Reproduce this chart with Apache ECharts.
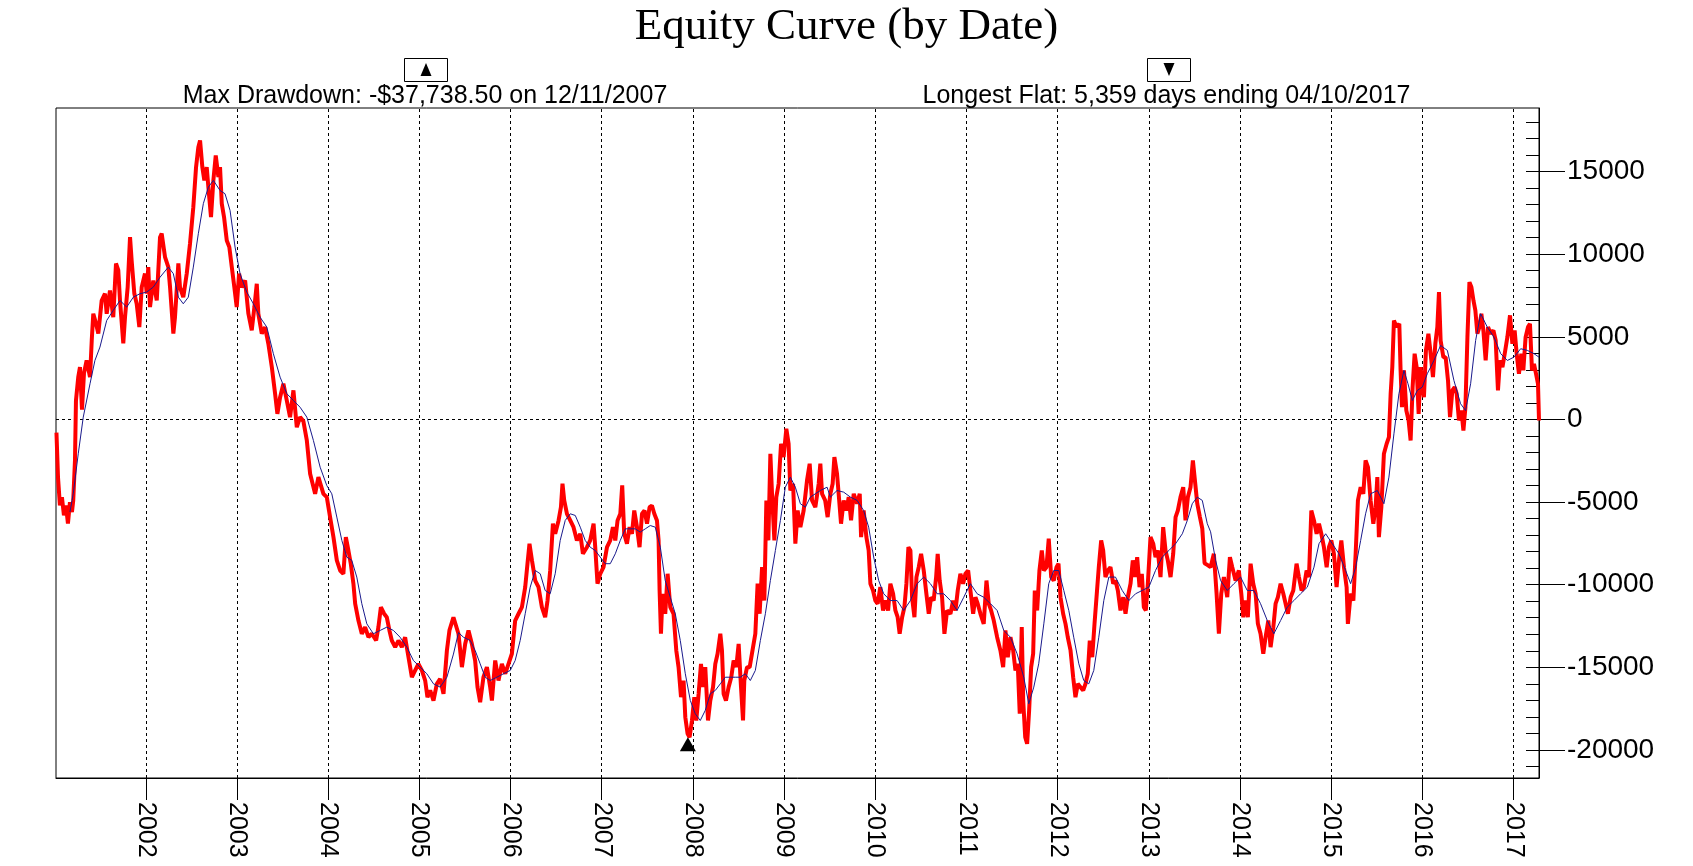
<!DOCTYPE html>
<html><head><meta charset="utf-8">
<script src="https://cdn.jsdelivr.net/npm/echarts@6/dist/echarts.min.js"></script>
<style>html,body{margin:0;padding:0;background:#fff}#c{width:1693px;height:866px}</style>
</head><body><div id="c"></div>
<script>
const yearTicks = [2002,2003,2004,2005,2006,2007,2008,2009,2010,2011,2012,2013,2014,2015,2016,2017];
const valueTicks = [-20000,-15000,-10000,-5000,0,5000,10000,15000];
const minorTicks = [-21000,-20000,-19000,-18000,-17000,-16000,-15000,-14000,-13000,-12000,-11000,-10000,-9000,-8000,-7000,-6000,-5000,-4000,-3000,-2000,-1000,0,1000,2000,3000,4000,5000,6000,7000,8000,9000,10000,11000,12000,13000,14000,15000,16000,17000,18000];
const maxDrawdownPoint = [2007.945, -19230];
const titleText = 'Equity Curve (by Date)';
const drawdownText = 'Max Drawdown: -$37,738.50 on 12/11/2007';
const flatText = 'Longest Flat: 5,359 days ending 04/10/2017';

// equity curve: [decimal year, equity]
const equity = [
[2001.020,-800],[2001.037,-3500],[2001.058,-5200],[2001.080,-4700],[2001.102,-5800],[2001.124,-5200],[2001.146,-6300],[2001.168,-5000],[2001.190,-5600],[2001.204,-4900],
[2001.223,-2500],[2001.234,1150],[2001.259,2560],[2001.278,3170],[2001.300,600],[2001.322,2800],[2001.351,3570],[2001.388,2560],[2001.407,4780],[2001.424,6400],
[2001.454,5800],[2001.479,5200],[2001.516,7200],[2001.552,7620],[2001.571,6400],[2001.607,7800],[2001.643,6190],[2001.673,9440],[2001.698,9040],[2001.717,7200],
[2001.753,4600],[2001.772,6190],[2001.801,8000],[2001.827,11030],[2001.845,9600],[2001.874,7620],[2001.900,7000],[2001.929,5590],[2001.955,8000],[2001.991,8830],
[2002.010,7620],[2002.027,9220],[2002.046,6800],[2002.082,8410],[2002.120,7200],[2002.156,11030],[2002.174,11250],[2002.211,9820],[2002.247,9220],[2002.266,8000],
[2002.302,5200],[2002.320,6190],[2002.357,9440],[2002.375,8000],[2002.411,7400],[2002.449,8830],[2002.485,10650],[2002.521,12850],[2002.551,15270],[2002.576,16480],
[2002.595,16890],[2002.620,15270],[2002.642,14470],[2002.668,15270],[2002.686,14060],[2002.715,12250],[2002.741,14470],[2002.767,15980],[2002.796,14670],[2002.814,15270],
[2002.833,13060],[2002.858,12250],[2002.888,10830],[2002.916,10430],[2002.943,9220],[2002.971,8000],[2002.997,6800],[2003.023,8830],[2003.052,8000],[2003.089,8410],
[2003.125,6400],[2003.162,5390],[2003.191,6800],[2003.217,8210],[2003.234,6400],[2003.272,5190],[2003.308,5590],[2003.344,4580],[2003.382,3170],[2003.418,1560],
[2003.443,340],[2003.473,1350],[2003.509,2160],[2003.546,1150],[2003.582,140],[2003.619,1760],[2003.656,-470],[2003.692,140],[2003.728,-100],[2003.766,-1270],
[2003.802,-3290],[2003.857,-4500],[2003.893,-3490],[2003.948,-4500],[2003.985,-4700],[2004.021,-5910],[2004.058,-7120],[2004.095,-8530],[2004.131,-9140],[2004.167,-9340],
[2004.194,-7120],[2004.222,-7930],[2004.248,-8730],[2004.277,-9940],[2004.296,-11150],[2004.332,-12170],[2004.369,-12970],[2004.405,-12570],[2004.442,-13180],[2004.479,-12970],
[2004.526,-13380],[2004.551,-12570],[2004.578,-11360],[2004.614,-11760],[2004.643,-11970],[2004.672,-12770],[2004.698,-13380],[2004.735,-13780],[2004.771,-13380],[2004.808,-13780],
[2004.844,-13180],[2004.881,-14390],[2004.918,-15600],[2004.954,-15190],[2004.990,-14790],[2005.028,-15190],[2005.064,-15800],[2005.089,-16810],[2005.119,-16400],[2005.155,-17010],
[2005.192,-16000],[2005.228,-15700],[2005.265,-16600],[2005.302,-14000],[2005.330,-12770],[2005.374,-11970],[2005.429,-12970],[2005.467,-14990],[2005.503,-13580],[2005.539,-12770],
[2005.576,-13580],[2005.612,-14590],[2005.638,-16200],[2005.667,-17110],[2005.703,-15600],[2005.741,-14990],[2005.777,-16200],[2005.796,-17010],[2005.832,-14590],[2005.868,-15800],
[2005.905,-14790],[2005.942,-15390],[2005.978,-14790],[2006.015,-14180],[2006.051,-12170],[2006.088,-11760],[2006.125,-11360],[2006.161,-10150],[2006.186,-8730],[2006.208,-7520],
[2006.235,-8530],[2006.271,-9750],[2006.307,-10150],[2006.344,-11360],[2006.380,-11970],[2006.406,-10960],[2006.435,-9140],[2006.465,-6310],[2006.490,-6920],[2006.527,-6110],
[2006.553,-5310],[2006.570,-3890],[2006.589,-4900],[2006.619,-5710],[2006.655,-6110],[2006.691,-6520],[2006.728,-7320],[2006.765,-6920],[2006.794,-8130],[2006.838,-7730],
[2006.874,-7320],[2006.911,-6310],[2006.929,-7730],[2006.954,-9940],[2006.984,-9340],[2007.020,-8940],[2007.058,-7730],[2007.094,-7320],[2007.123,-6520],[2007.149,-7320],
[2007.174,-6110],[2007.204,-5710],[2007.225,-3990],[2007.247,-6920],[2007.277,-7520],[2007.306,-6520],[2007.332,-6920],[2007.357,-5510],[2007.387,-6520],[2007.415,-7730],
[2007.442,-5710],[2007.470,-5510],[2007.497,-6310],[2007.525,-5310],[2007.551,-5210],[2007.577,-5710],[2007.606,-6110],[2007.624,-7320],[2007.635,-10350],[2007.650,-12970],
[2007.668,-10550],[2007.697,-11760],[2007.723,-9340],[2007.752,-11360],[2007.788,-11760],[2007.818,-13980],[2007.843,-14990],[2007.870,-16810],[2007.898,-15800],[2007.917,-18020],
[2007.942,-19020],[2007.964,-19230],[2007.990,-18220],[2008.016,-16810],[2008.037,-18220],[2008.063,-16600],[2008.089,-14790],[2008.111,-16200],[2008.136,-14990],[2008.166,-18220],
[2008.191,-17010],[2008.221,-16200],[2008.246,-14790],[2008.271,-14180],[2008.301,-12970],[2008.319,-13980],[2008.337,-16600],[2008.363,-17010],[2008.392,-16200],[2008.421,-15600],
[2008.447,-14590],[2008.476,-14990],[2008.502,-13580],[2008.528,-16200],[2008.550,-18220],[2008.564,-15800],[2008.594,-14990],[2008.623,-14990],[2008.660,-13780],[2008.685,-12970],
[2008.710,-9940],[2008.732,-11760],[2008.759,-8940],[2008.784,-10960],[2008.806,-4900],[2008.828,-7320],[2008.850,-2080],[2008.868,-4500],[2008.894,-7320],[2008.915,-4700],
[2008.941,-3890],[2008.967,-1470],[2008.995,-2280],[2009.025,-560],[2009.050,-1470],[2009.069,-4300],[2009.099,-3890],[2009.124,-7520],[2009.149,-5510],[2009.179,-6520],
[2009.215,-5510],[2009.252,-3690],[2009.281,-2680],[2009.307,-4900],[2009.343,-5310],[2009.380,-3890],[2009.398,-2680],[2009.417,-4500],[2009.451,-4900],[2009.478,-5910],
[2009.508,-4500],[2009.533,-3890],[2009.552,-2280],[2009.581,-3290],[2009.599,-4500],[2009.625,-6310],[2009.654,-4900],[2009.683,-5510],[2009.709,-4700],[2009.735,-6110],
[2009.764,-4500],[2009.801,-5100],[2009.830,-4500],[2009.845,-7120],[2009.873,-5510],[2009.903,-7120],[2009.928,-7930],[2009.947,-9940],[2009.976,-10350],[2010.001,-10960],
[2010.027,-11150],[2010.056,-10150],[2010.086,-11560],[2010.111,-10960],[2010.141,-11560],[2010.166,-9940],[2010.196,-10550],[2010.221,-11560],[2010.246,-11970],[2010.268,-12970],
[2010.295,-11970],[2010.320,-11360],[2010.342,-9940],[2010.364,-7730],[2010.386,-7930],[2010.404,-10760],[2010.430,-11970],[2010.452,-9540],[2010.477,-8940],[2010.503,-8130],
[2010.532,-9140],[2010.561,-10550],[2010.587,-11760],[2010.613,-10760],[2010.641,-10960],[2010.668,-9540],[2010.685,-8130],[2010.707,-9750],[2010.733,-10760],[2010.759,-12970],
[2010.788,-11560],[2010.825,-11760],[2010.854,-10960],[2010.880,-11560],[2010.905,-10350],[2010.934,-9340],[2010.964,-9940],[2010.989,-9340],[2011.019,-9140],[2011.044,-10350],
[2011.074,-11760],[2011.099,-10760],[2011.124,-11150],[2011.154,-11760],[2011.190,-12370],[2011.220,-9750],[2011.245,-11150],[2011.271,-11560],[2011.300,-12170],[2011.337,-13180],
[2011.373,-13980],[2011.403,-14990],[2011.428,-12770],[2011.454,-14390],[2011.483,-13180],[2011.513,-13980],[2011.538,-15190],[2011.563,-14790],[2011.585,-17810],[2011.607,-12570],
[2011.623,-17010],[2011.645,-19230],[2011.666,-19630],[2011.688,-17610],[2011.710,-14990],[2011.732,-14180],[2011.750,-10350],[2011.776,-11560],[2011.801,-9140],[2011.827,-7930],
[2011.849,-9140],[2011.878,-8940],[2011.903,-7220],[2011.930,-9540],[2011.958,-9750],[2011.988,-8940],[2012.010,-8730],[2012.032,-10760],[2012.061,-11760],[2012.087,-12370],
[2012.112,-13180],[2012.142,-13980],[2012.171,-15600],[2012.196,-16810],[2012.222,-16000],[2012.251,-16200],[2012.281,-16400],[2012.306,-16000],[2012.331,-15390],[2012.353,-13380],
[2012.380,-14390],[2012.405,-12370],[2012.427,-10760],[2012.452,-8940],[2012.478,-7320],[2012.500,-7930],[2012.525,-9540],[2012.551,-9140],[2012.580,-8940],[2012.610,-9940],
[2012.635,-9750],[2012.661,-10350],[2012.690,-11560],[2012.720,-10760],[2012.745,-11760],[2012.770,-10760],[2012.800,-9940],[2012.825,-8530],[2012.851,-9540],[2012.873,-8330],
[2012.899,-10150],[2012.924,-9340],[2012.946,-11360],[2012.968,-11560],[2012.990,-9940],[2013.019,-7120],[2013.049,-7520],[2013.074,-8330],[2013.099,-7930],[2013.129,-9540],
[2013.158,-6520],[2013.184,-7930],[2013.209,-8530],[2013.239,-9540],[2013.268,-8130],[2013.294,-5910],[2013.319,-5510],[2013.348,-4700],[2013.378,-4100],[2013.403,-6110],
[2013.429,-4700],[2013.458,-4100],[2013.484,-2480],[2013.510,-3890],[2013.532,-5100],[2013.561,-5910],[2013.587,-6600],[2013.612,-8700],[2013.642,-8800],[2013.678,-8940],
[2013.714,-8130],[2013.744,-10550],[2013.769,-12970],[2013.795,-10550],[2013.824,-9540],[2013.861,-10760],[2013.890,-8330],[2013.916,-8940],[2013.952,-9750],[2013.988,-9140],
[2014.015,-10550],[2014.037,-11970],[2014.062,-10960],[2014.087,-11970],[2014.117,-8730],[2014.146,-9940],[2014.172,-10550],[2014.197,-12370],[2014.226,-12970],[2014.256,-14180],
[2014.281,-13180],[2014.311,-12170],[2014.336,-13780],[2014.366,-12570],[2014.391,-11150],[2014.416,-10760],[2014.446,-9940],[2014.476,-10550],[2014.501,-11150],[2014.526,-11760],
[2014.556,-10760],[2014.585,-10350],[2014.621,-8730],[2014.647,-9540],[2014.676,-10350],[2014.702,-10150],[2014.731,-9140],[2014.757,-9540],[2014.783,-5510],[2014.812,-6110],
[2014.841,-6920],[2014.867,-6310],[2014.893,-6920],[2014.921,-7730],[2014.951,-8940],[2014.976,-7730],[2015.002,-7320],[2015.031,-8130],[2015.060,-10150],[2015.086,-8530],
[2015.112,-7320],[2015.141,-8940],[2015.170,-10150],[2015.184,-12370],[2015.214,-10550],[2015.244,-10960],[2015.269,-8130],[2015.294,-4900],[2015.324,-4100],[2015.353,-4500],
[2015.378,-2480],[2015.404,-2890],[2015.433,-4900],[2015.463,-6310],[2015.488,-5310],[2015.507,-3490],[2015.524,-7120],[2015.551,-5310],[2015.579,-2080],[2015.609,-1470],
[2015.634,-1070],[2015.653,1560],[2015.671,3170],[2015.689,5990],[2015.718,5590],[2015.748,5790],[2015.762,2970],[2015.777,740],[2015.799,2970],[2015.825,540],
[2015.850,-60],[2015.872,-1270],[2015.894,1960],[2015.916,3980],[2015.938,3170],[2015.960,340],[2015.982,3170],[2016.000,1960],[2016.018,1350],[2016.040,4180],
[2016.067,5190],[2016.092,3980],[2016.117,2560],[2016.143,4580],[2016.165,5590],[2016.183,7710],[2016.201,4780],[2016.231,3770],[2016.256,3770],[2016.282,2360],
[2016.304,140],[2016.330,1760],[2016.355,1960],[2016.377,1560],[2016.402,-60],[2016.429,540],[2016.451,-670],[2016.473,740],[2016.495,4980],[2016.517,8310],
[2016.539,8000],[2016.561,7200],[2016.582,6600],[2016.604,5190],[2016.626,5590],[2016.648,6400],[2016.670,5390],[2016.695,3570],[2016.721,5590],[2016.750,5190],
[2016.780,5390],[2016.805,4780],[2016.830,1760],[2016.852,3570],[2016.879,3170],[2016.904,3980],[2016.933,4980],[2016.962,6300],[2016.988,4580],[2017.013,5390],
[2017.035,3980],[2017.060,2770],[2017.086,3980],[2017.108,2970],[2017.133,4980],[2017.159,5590],[2017.181,5790],[2017.203,2970],[2017.225,3370],[2017.247,2770],
[2017.269,2160],[2017.280,-60]
];

// moving average: [decimal year, value]
const average = [
[2001.168,-5600],[2001.204,-4500],[2001.259,-2080],[2001.314,140],[2001.388,2160],[2001.442,3570],[2001.497,4380],[2001.571,5990],[2001.643,6600],[2001.717,7200],
[2001.790,6800],[2001.863,7400],[2001.936,7610],[2002.010,7710],[2002.082,8010],[2002.156,8610],[2002.247,9220],[2002.302,8820],[2002.357,7400],[2002.411,7000],
[2002.466,7400],[2002.521,9220],[2002.576,11240],[2002.631,13060],[2002.686,14060],[2002.741,14470],[2002.814,13860],[2002.869,13660],[2002.924,12650],[2002.979,10430],
[2003.034,8820],[2003.107,7710],[2003.180,7000],[2003.253,6190],[2003.327,5590],[2003.399,3980],[2003.473,2560],[2003.546,1560],[2003.619,1150],[2003.692,740],
[2003.766,140],[2003.838,-1270],[2003.912,-2890],[2003.985,-4000],[2004.040,-4500],[2004.095,-5910],[2004.150,-7320],[2004.204,-8330],[2004.259,-8530],[2004.314,-9540],
[2004.369,-11150],[2004.424,-12370],[2004.496,-12970],[2004.570,-12770],[2004.643,-12570],[2004.716,-12770],[2004.789,-13180],[2004.863,-13780],[2004.935,-14590],[2005.009,-14990],
[2005.082,-15390],[2005.155,-16000],[2005.228,-16200],[2005.302,-15600],[2005.374,-14200],[2005.429,-12900],[2005.484,-13180],[2005.558,-13380],[2005.612,-13980],[2005.667,-14790],
[2005.722,-15600],[2005.777,-15800],[2005.850,-15600],[2005.923,-15390],[2005.997,-15190],[2006.051,-14590],[2006.106,-13380],[2006.161,-11760],[2006.216,-10150],[2006.271,-9140],
[2006.326,-9340],[2006.380,-10350],[2006.435,-10550],[2006.490,-9340],[2006.545,-7320],[2006.600,-6110],[2006.655,-5710],[2006.710,-5810],[2006.765,-6520],[2006.819,-7320],
[2006.874,-7730],[2006.929,-7930],[2006.984,-8330],[2007.039,-8730],[2007.094,-8730],[2007.149,-8130],[2007.204,-7320],[2007.259,-6620],[2007.314,-6620],[2007.368,-6620],
[2007.423,-6820],[2007.478,-6620],[2007.533,-6420],[2007.588,-6520],[2007.643,-7730],[2007.697,-9750],[2007.752,-10760],[2007.807,-11760],[2007.862,-13380],[2007.917,-15390],
[2007.972,-17010],[2008.026,-17810],[2008.081,-18220],[2008.136,-17610],[2008.191,-16600],[2008.246,-16400],[2008.301,-16000],[2008.356,-15600],[2008.411,-15600],[2008.465,-15600],
[2008.520,-15600],[2008.575,-15390],[2008.630,-15800],[2008.685,-15190],[2008.740,-13380],[2008.795,-11760],[2008.850,-9750],[2008.905,-7930],[2008.960,-6110],[2009.014,-4100],
[2009.069,-3490],[2009.124,-4100],[2009.179,-5100],[2009.234,-5310],[2009.288,-4700],[2009.343,-4500],[2009.398,-4300],[2009.472,-4100],[2009.508,-4700],[2009.581,-4300],
[2009.654,-4400],[2009.728,-4700],[2009.801,-4900],[2009.873,-5510],[2009.928,-6520],[2009.983,-8330],[2010.038,-9750],[2010.093,-10550],[2010.166,-10960],[2010.240,-10960],
[2010.312,-11560],[2010.386,-10960],[2010.459,-9940],[2010.532,-9540],[2010.605,-9940],[2010.679,-10550],[2010.752,-10550],[2010.825,-10960],[2010.898,-11560],[2010.971,-10760],
[2011.044,-9940],[2011.118,-10550],[2011.190,-10760],[2011.264,-11150],[2011.337,-11560],[2011.410,-12770],[2011.483,-13180],[2011.556,-14180],[2011.629,-15600],[2011.684,-17210],
[2011.739,-16200],[2011.793,-14790],[2011.849,-12370],[2011.903,-9940],[2011.958,-9140],[2012.013,-9140],[2012.068,-10350],[2012.123,-11560],[2012.177,-13180],[2012.233,-14790],
[2012.287,-15800],[2012.342,-16000],[2012.397,-15190],[2012.452,-13180],[2012.507,-10960],[2012.562,-9540],[2012.635,-9540],[2012.709,-10350],[2012.782,-10960],[2012.855,-10550],
[2012.928,-10350],[2013.001,-10150],[2013.074,-9140],[2013.148,-8330],[2013.221,-7930],[2013.294,-7520],[2013.368,-6920],[2013.423,-6110],[2013.477,-5100],[2013.532,-4700],
[2013.587,-4900],[2013.642,-6310],[2013.678,-6800],[2013.733,-8530],[2013.788,-9750],[2013.861,-10350],[2013.934,-9940],[2014.007,-9540],[2014.080,-10350],[2014.152,-10350],
[2014.226,-11150],[2014.300,-12170],[2014.372,-12970],[2014.446,-12170],[2014.519,-11360],[2014.592,-10960],[2014.665,-10550],[2014.739,-10150],[2014.812,-8940],[2014.867,-7520],
[2014.940,-6920],[2015.013,-7520],[2015.086,-8130],[2015.159,-9140],[2015.214,-9940],[2015.269,-8940],[2015.324,-7320],[2015.378,-5710],[2015.433,-4500],[2015.507,-4300],
[2015.579,-5100],[2015.634,-3490],[2015.689,-870],[2015.744,1560],[2015.799,2970],[2015.843,2160],[2015.891,1150],[2015.946,1760],[2016.000,1960],[2016.055,2770],
[2016.128,3570],[2016.201,4480],[2016.275,4180],[2016.347,2360],[2016.420,950],[2016.475,540],[2016.530,2160],[2016.585,4780],[2016.640,6400],[2016.713,5590],
[2016.786,4980],[2016.860,3980],[2016.933,3570],[2017.005,3770],[2017.079,4280],[2017.152,4180],[2017.225,3980],[2017.280,3770]
];

const chart = echarts.init(document.getElementById('c'), null, {renderer: 'canvas'});
const sans = 'Liberation Sans, Arial, sans-serif';
const serif = 'Liberation Serif, Times New Roman, serif';
const gridLines = yearTicks.map(y => ({xAxis: y})).concat([{yAxis: 0}]);

chart.setOption({
  animation: false,
  backgroundColor: '#ffffff',
  title: {
    text: titleText, left: 'center', top: 0,
    textStyle: {fontFamily: serif, fontSize: 45, fontWeight: 'normal', color: '#000'}
  },
  grid: {left: 56, right: 154, top: 108, bottom: 88, show: true, borderColor: '#000', borderWidth: 1, backgroundColor: 'transparent'},
  xAxis: {
    type: 'value', min: 2001.015, max: 2017.28,
    axisLine: {show: true, onZero: false, lineStyle: {color: '#000', width: 1}},
    axisTick: {show: true, length: 22, customValues: yearTicks, lineStyle: {color: '#000', width: 1}},
    axisLabel: {customValues: yearTicks, rotate: -90, margin: 24, fontFamily: sans, fontSize: 25, color: '#000', formatter: v => String(v)},
    splitLine: {show: false}
  },
  yAxis: [{
    type: 'value', position: 'right', min: -21700, max: 18850,
    axisLine: {show: true, onZero: false, lineStyle: {color: '#000', width: 1}},
    axisTick: {show: true, length: 26, customValues: valueTicks, lineStyle: {color: '#000', width: 1}},
    axisLabel: {customValues: valueTicks, margin: 28, fontFamily: sans, fontSize: 28, color: '#000', formatter: v => String(v)},
    splitLine: {show: false}
  }, {
    type: 'value', position: 'right', min: -21700, max: 18850,
    axisLine: {show: false},
    axisTick: {show: true, inside: true, length: 13, customValues: minorTicks, lineStyle: {color: '#000', width: 1}},
    axisLabel: {show: false},
    splitLine: {show: false}
  }],
  graphic: [
    {type: 'text', x: 425, y: 96, style: {text: drawdownText, font: '25px ' + sans, fill: '#000', align: 'center', verticalAlign: 'middle'}},
    {type: 'text', x: 1166.5, y: 96, style: {text: flatText, font: '25px ' + sans, fill: '#000', align: 'center', verticalAlign: 'middle'}},
    {type: 'rect', shape: {x: 404.5, y: 58.5, width: 43, height: 23}, style: {fill: 'none', stroke: '#000', lineWidth: 1}},
    {type: 'polygon', shape: {points: [[426, 63], [420.5, 76], [431.5, 76]]}, style: {fill: '#000'}},
    {type: 'rect', shape: {x: 1147.5, y: 58.5, width: 43, height: 23}, style: {fill: 'none', stroke: '#000', lineWidth: 1}},
    {type: 'polygon', shape: {points: [[1163.5, 63], [1174.5, 63], [1169, 76]]}, style: {fill: '#000'}}
  ],
  series: [
    {
      type: 'line', name: 'Equity', data: equity, symbol: 'none', showSymbol: false, z: 2,
      lineStyle: {color: '#ff0000', width: 4},
      markLine: {
        silent: true, symbol: ['none', 'none'], z: 1, animation: false,
        label: {show: false},
        lineStyle: {color: '#000', width: 1, type: [3, 3]},
        data: gridLines
      }
    },
    {
      type: 'line', name: 'Average', data: average, symbol: 'none', showSymbol: false, z: 3,
      lineStyle: {color: '#1a1a8c', width: 1}
    },
    {
      type: 'scatter', name: 'Max Drawdown', data: [maxDrawdownPoint], symbol: 'triangle',
      symbolSize: [16, 14], symbolOffset: [0, 7], z: 4, itemStyle: {color: '#000', opacity: 1}
    }
  ]
});
</script></body></html>
